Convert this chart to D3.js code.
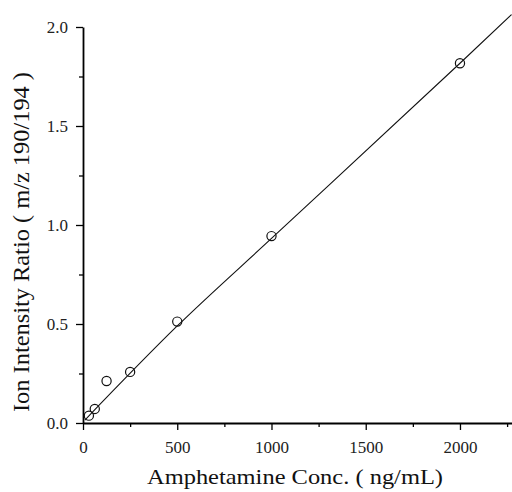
<!DOCTYPE html>
<html>
<head>
<meta charset="utf-8">
<script src="https://cdn.jsdelivr.net/npm/d3@7"></script>
<style>
  body { margin: 0; background: #fff; }
</style>
</head>
<body>
<div class="chart"></div>
<script>
// measured points (conc in ng/mL, ratio m/z 190/194)
const concValues = [31.25, 62.5, 125, 250, 500, 1000, 2000];
const ratioValues = [0.037, 0.071, 0.212, 0.258, 0.512, 0.944, 1.817];
// calibration line
const fitConc = [10, 500, 1000, 2000, 2274];
const fitRatio = [0.015, 0.49, 0.932, 1.817, 2.063];
// ticks
const xTicks = [0, 500, 1000, 1500, 2000];
const xMinorTicks = [250, 750, 1250, 1750, 2250];
const yTicks = [0.0, 0.5, 1.0, 1.5, 2.0];
const yMinorTicks = [0.25, 0.75, 1.25, 1.75];

const serif = '"Liberation Serif", "Times New Roman", serif';

let width = 512, height = 492;
let svg = d3.select(".chart").append("svg")
    .attr("width", width)
    .attr("height", height);

let x = d3.scaleLinear().domain([0, 2276]).range([83, 512]);
let y = d3.scaleLinear().domain([0, 2]).range([423, 27]);

// x axis
svg.append("g")
    .attr("transform", `translate(0, ${y(0)})`)
    .call(d3.axisBottom(x).tickValues(xTicks).tickFormat(d3.format("d"))
        .tickSize(7).tickSizeOuter(0).tickPadding(11));
svg.append("g")
    .attr("transform", `translate(0, ${y(0)})`)
    .call(d3.axisBottom(x).tickValues(xMinorTicks).tickFormat("").tickSize(4))
    .call(g => g.select(".domain").remove());

// y axis
svg.append("g")
    .attr("transform", `translate(${x(0)}, 0)`)
    .call(d3.axisLeft(y).tickValues(yTicks).tickFormat(d3.format(".1f"))
        .tickSize(7).tickSizeOuter(0).tickPadding(8));
svg.append("g")
    .attr("transform", `translate(${x(0)}, 0)`)
    .call(d3.axisLeft(y).tickValues(yMinorTicks).tickFormat("").tickSize(4))
    .call(g => g.select(".domain").remove());

svg.selectAll(".domain").attr("stroke-width", 1.8);
svg.selectAll(".tick line").attr("stroke-width", 1.3);
svg.selectAll(".tick text")
    .style("font-family", serif)
    .style("font-size", "17px")
    .attr("fill", "#222");

// fit line
let fitData = fitConc.map((c, i) => ({ conc: c, ratio: fitRatio[i] }));
let fitLine = d3.line()
    .x(d => x(d.conc))
    .y(d => y(d.ratio))
    .curve(d3.curveMonotoneX);
svg.append("path")
    .datum(fitData)
    .attr("fill", "none")
    .attr("stroke", "#111")
    .attr("stroke-width", 1.1)
    .attr("d", fitLine);

// data points
let points = concValues.map((c, i) => ({ conc: c, ratio: ratioValues[i] }));
svg.selectAll(".pt")
    .data(points)
    .enter().append("circle")
    .attr("class", "pt")
    .attr("cx", d => x(d.conc))
    .attr("cy", d => y(d.ratio))
    .attr("r", 4.6)
    .attr("fill", "none")
    .attr("stroke", "#111")
    .attr("stroke-width", 1.2);

// axis titles
svg.append("text")
    .attr("x", 147)
    .attr("y", 484)
    .style("font-family", serif)
    .style("font-size", "21px")
    .attr("textLength", 296)
    .attr("lengthAdjust", "spacingAndGlyphs")
    .attr("fill", "#111")
    .text("Amphetamine Conc. ( ng/mL)");

svg.append("text")
    .attr("transform", "translate(29, 412) rotate(-90)")
    .style("font-family", serif)
    .style("font-size", "23px")
    .attr("textLength", 340)
    .attr("lengthAdjust", "spacingAndGlyphs")
    .attr("fill", "#111")
    .text("Ion Intensity Ratio ( m/z 190/194 )");
</script>
</body>
</html>
